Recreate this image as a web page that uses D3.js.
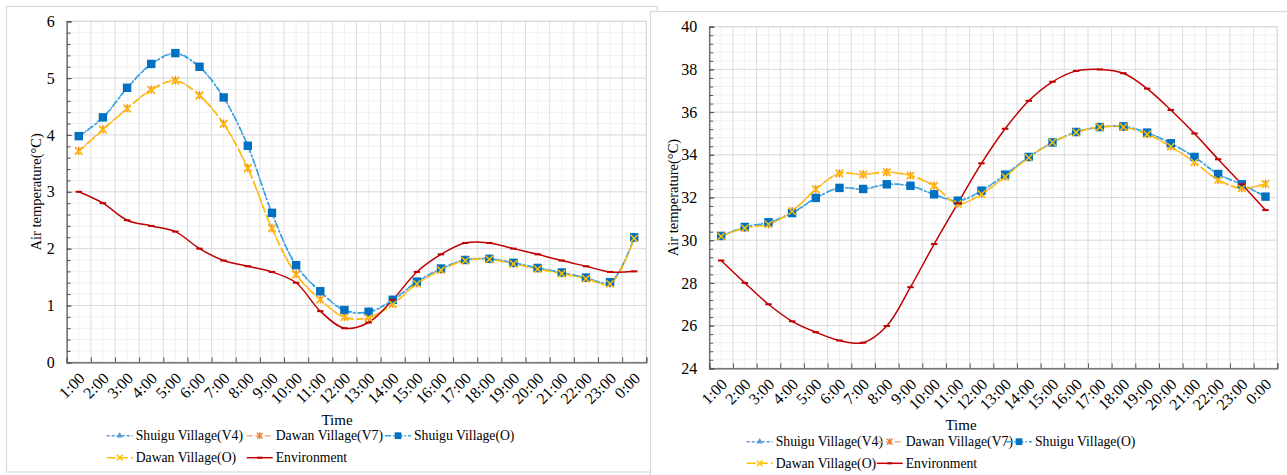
<!DOCTYPE html>
<html><head><meta charset="utf-8">
<script src="https://cdn.jsdelivr.net/npm/d3@7"></script>
<style>
body{margin:0;background:#fff;}
svg text{font-family:"Liberation Serif","Times New Roman",serif !important;fill:#000;}
</style>
</head><body>
<svg id="c" width="1287" height="475"></svg>
<script>
// ---------- DATA ----------
const hours = ["1:00","2:00","3:00","4:00","5:00","6:00","7:00","8:00","9:00","10:00","11:00","12:00",
  "13:00","14:00","15:00","16:00","17:00","18:00","19:00","20:00","21:00","22:00","23:00","0:00"];
const seriesNames = ["Shuigu Village(V4)","Dawan Village(V7)","Shuigu Village(O)","Dawan Village(O)","Environment"];
const xTitle = "Time";
const yTitle = "Air temperature(\u00B0C)";

// Left chart (winter)
const leftYTicks = [0,1,2,3,4,5,6];
const leftShuiguV4 = [3.97,4.30,4.82,5.24,5.43,5.19,4.65,3.80,2.62,1.70,1.24,0.91,0.88,1.09,1.41,1.64,1.80,1.82,1.75,1.66,1.58,1.49,1.40,2.19];
const leftDawanV7  = [3.72,4.10,4.47,4.80,4.96,4.70,4.20,3.42,2.36,1.55,1.11,0.80,0.79,1.03,1.39,1.63,1.80,1.82,1.74,1.65,1.57,1.48,1.39,2.19];
const leftShuiguO  = [3.98,4.31,4.83,5.25,5.44,5.20,4.66,3.81,2.63,1.71,1.25,0.92,0.89,1.10,1.42,1.65,1.80,1.82,1.75,1.66,1.58,1.49,1.41,2.20];
const leftDawanO   = [3.71,4.09,4.46,4.79,4.95,4.69,4.19,3.41,2.35,1.54,1.10,0.79,0.78,1.02,1.38,1.62,1.79,1.81,1.73,1.64,1.56,1.47,1.38,2.18];
const leftEnv      = [3.00,2.80,2.50,2.40,2.30,2.00,1.79,1.69,1.59,1.40,0.90,0.60,0.70,1.10,1.59,1.90,2.10,2.10,2.00,1.90,1.79,1.69,1.59,1.60];

// Right chart (summer)
const rightYTicks = [24,26,28,30,32,34,36,38,40];
const rightShuiguV4 = [30.19,30.61,30.83,31.26,31.97,32.44,32.39,32.61,32.54,32.14,31.84,32.31,33.06,33.89,34.57,35.06,35.29,35.32,35.03,34.53,33.89,33.09,32.61,32.03];
const rightDawanV7  = [30.19,30.58,30.75,31.36,32.39,33.13,33.08,33.19,33.03,32.55,31.71,32.17,32.98,33.88,34.58,35.05,35.30,35.30,34.97,34.39,33.66,32.83,32.44,32.64];
const rightShuiguO  = [30.20,30.62,30.84,31.27,31.98,32.45,32.40,32.62,32.55,32.15,31.85,32.32,33.07,33.90,34.58,35.07,35.30,35.33,35.04,34.54,33.90,33.10,32.62,32.04];
const rightDawanO   = [30.18,30.57,30.74,31.35,32.38,33.12,33.07,33.18,33.02,32.54,31.70,32.16,32.97,33.87,34.58,35.05,35.30,35.30,34.96,34.38,33.65,32.82,32.43,32.63];
const rightEnv      = [29.05,28.00,27.00,26.20,25.69,25.30,25.20,25.98,27.80,29.82,31.73,33.60,35.22,36.53,37.42,37.93,38.00,37.82,37.10,36.10,35.00,33.79,32.62,31.41];

// ---------- STYLES ----------
const FONT = "Liberation Serif";
const styles = [
  {line:"#5B9BD5", dash:"3,2", marker:"triangle", mcolor:"#5B9BD5"},
  {line:"#F4B183", dash:"6,3", marker:"asterisk", mcolor:"#ED7D31"},
  {line:"#2EA6E8", dash:"6,2,1.5,2", marker:"square", mcolor:"#0070C0"},
  {line:"#FFC000", dash:"9,3", marker:"x", mcolor:"#FFC000"},
  {line:"#C00000", dash:null, marker:"dash", mcolor:"#C00000"}
];

const svg = d3.select("#c");

function drawMarker(g, type, x, y, color, s){
  s = s || 1;
  if(type==="triangle"){
    g.append("path").attr("d", d3.symbol(d3.symbolTriangle, 28*s*s)()).attr("transform",`translate(${x},${y})`).attr("fill",color);
  } else if(type==="square"){
    const h=4.2*s;
    g.append("rect").attr("x",x-h).attr("y",y-h).attr("width",2*h).attr("height",2*h).attr("fill",color);
  } else if(type==="x"){
    const h=3.6*s;
    g.append("path").attr("d",`M${x-h},${y-h}L${x+h},${y+h}M${x-h},${y+h}L${x+h},${y-h}`).attr("stroke",color).attr("stroke-width",1.5).attr("fill","none");
  } else if(type==="asterisk"){
    const h=3.6*s;
    g.append("path").attr("d",`M${x-h},${y-h}L${x+h},${y+h}M${x-h},${y+h}L${x+h},${y-h}M${x},${y-h-0.5}L${x},${y+h+0.5}`).attr("stroke",color).attr("stroke-width",1.3).attr("fill","none");
  } else if(type==="dash"){
    const h=3.2*s;
    g.append("line").attr("x1",x-h).attr("x2",x+h).attr("y1",y).attr("y2",y).attr("stroke",color).attr("stroke-width",2);
  }
}

function drawChart(cfg){
  const g = svg.append("g");
  g.append("rect").attr("x",cfg.panel[0]).attr("y",cfg.panel[1]).attr("width",cfg.panel[2]).attr("height",cfg.panel[3])
    .attr("fill","#fff").attr("stroke","#d9d9d9").attr("stroke-width",1.2);
  const x = d3.scaleBand().domain(hours).range([cfg.x0, cfg.x1]).padding(0);
  const xl = d3.scaleLinear().domain([0, hours.length]).range([cfg.x0, cfg.x1]);
  const y = d3.scaleLinear().domain(cfg.domain).range([cfg.yBot, cfg.yTop]);
  const cx = h => x(h) + x.bandwidth()/2;
  const yMinor = d3.range(cfg.domain[0], cfg.domain[1]+1e-9, cfg.minorStep);
  const xMinor = d3.range(0.5, hours.length, 1);
  const xMajor = d3.range(0, hours.length+1, 1);

  const grid = g.append("g");
  yMinor.forEach(v => grid.append("line").attr("x1",cfg.x0).attr("x2",cfg.x1).attr("y1",y(v)).attr("y2",y(v)).attr("stroke","#f0f0f0").attr("stroke-width",1));
  xMinor.forEach(v => grid.append("line").attr("x1",xl(v)).attr("x2",xl(v)).attr("y1",cfg.yTop).attr("y2",cfg.yBot).attr("stroke","#f0f0f0").attr("stroke-width",1));
  cfg.yTicks.forEach(v => grid.append("line").attr("x1",cfg.x0).attr("x2",cfg.x1).attr("y1",y(v)).attr("y2",y(v)).attr("stroke","#dcdcdc").attr("stroke-width",1));
  xMajor.forEach(v => grid.append("line").attr("x1",xl(v)).attr("x2",xl(v)).attr("y1",cfg.yTop).attr("y2",cfg.yBot).attr("stroke","#dcdcdc").attr("stroke-width",1));
  grid.append("rect").attr("x",cfg.x0).attr("y",cfg.yTop).attr("width",cfg.x1-cfg.x0).attr("height",cfg.yBot-cfg.yTop).attr("fill","none").attr("stroke","#d9d9d9");

  const ya = g.append("g").attr("transform",`translate(${cfg.x0},0)`)
    .call(d3.axisLeft(y).tickValues(cfg.yTicks).tickSize(-5).tickPadding(12).tickFormat(d3.format("d")));
  g.append("g").attr("transform",`translate(${cfg.x0},0)`)
    .call(d3.axisLeft(y).tickValues(yMinor).tickSize(-4).tickFormat(""))
    .call(s => s.select(".domain").remove());
  const xa = g.append("g").attr("transform",`translate(0,${cfg.yBot})`)
    .call(d3.axisBottom(xl).tickValues(xMajor).tickSize(-5).tickFormat(""));
  g.append("g").attr("transform",`translate(0,${cfg.yBot})`)
    .attr("font-family",FONT)
    .call(d3.axisBottom(x).tickSize(0).tickPadding(0))
    .call(s => s.select(".domain").remove())
    .selectAll("text")
    .attr("x",0).attr("y",0).attr("dy","0.35em")
    .attr("text-anchor","end")
    .attr("transform","translate(3,13) rotate(-45)")
    .attr("font-family",FONT)
    .style("font-size","16px");
  [ya, xa].forEach(a => { a.select(".domain").attr("stroke","#595959").attr("stroke-width",1.2); a.selectAll("line").attr("stroke","#595959"); });
  g.selectAll(".tick line").attr("stroke","#595959");
  ya.attr("font-family",FONT);
  ya.selectAll("text").style("font-size","16px").attr("font-family",FONT);

  g.append("text").attr("transform",`translate(${cfg.yTitleX},${(cfg.yTop+cfg.yBot)/2}) rotate(-90)`)
    .attr("text-anchor","middle").attr("dy","0.35em").attr("font-family",FONT).style("font-size","14.5px").text(yTitle);
  g.append("text").attr("x",cfg.timeX).attr("y",cfg.timeY).attr("text-anchor","middle").attr("dy","0.35em").attr("font-family",FONT).style("font-size","15px").text(xTitle);

  const line = d3.line().x((d,i)=>cx(hours[i])).y(d=>y(d)).curve(d3.curveCatmullRom.alpha(0.5));
  cfg.series.forEach((vals, k) => {
    const st = styles[k];
    g.append("path").attr("d", line(vals)).attr("fill","none").attr("stroke",st.line)
      .attr("stroke-width",1.5).attr("stroke-dasharray",st.dash);
  });
  cfg.series.forEach((vals, k) => {
    const st = styles[k];
    const mg = g.append("g");
    vals.forEach((v,i) => drawMarker(mg, st.marker, cx(hours[i]), y(v), st.mcolor));
  });

  const lg = g.append("g");
  const pos = [[0,0],[1,0],[2,0],[0,1],[1,1]];
  seriesNames.forEach((name,k) => {
    const st = styles[k];
    const sx = cfg.legCols[pos[k][0]];
    const sy = cfg.legRows[pos[k][1]];
    lg.append("line").attr("x1",sx).attr("x2",sx+26).attr("y1",sy).attr("y2",sy)
      .attr("stroke",st.line).attr("stroke-width",1.5).attr("stroke-dasharray",st.dash);
    drawMarker(lg, st.marker, sx+13, sy, st.mcolor, 0.8);
    lg.append("text").attr("x",sx+29).attr("y",sy).attr("dy","0.35em").attr("font-family",FONT).style("font-size","13.7px").text(name);
  });
}

drawChart({
  panel:[6.5,6.5,650.5,465.5],
  x0:66.7, x1:646.3, yTop:21.3, yBot:362.3,
  domain:[0,6], yTicks:leftYTicks, minorStep:0.2,
  yTitleX:36, timeX:337, timeY:419.5,
  legCols:[106.7,246.7,385], legRows:[435.7,457.7],
  series:[leftShuiguV4,leftDawanV7,leftShuiguO,leftDawanO,leftEnv]
});
drawChart({
  panel:[650.5,11.5,650,480],
  x0:709.3, x1:1277.3, yTop:26.7, yBot:368.3,
  domain:[24,40], yTicks:rightYTicks, minorStep:0.4,
  yTitleX:673, timeX:961, timeY:425,
  legCols:[746.7,876.7,1006], legRows:[441.7,463.3],
  series:[rightShuiguV4,rightDawanV7,rightShuiguO,rightDawanO,rightEnv]
});
</script>
</body></html>
